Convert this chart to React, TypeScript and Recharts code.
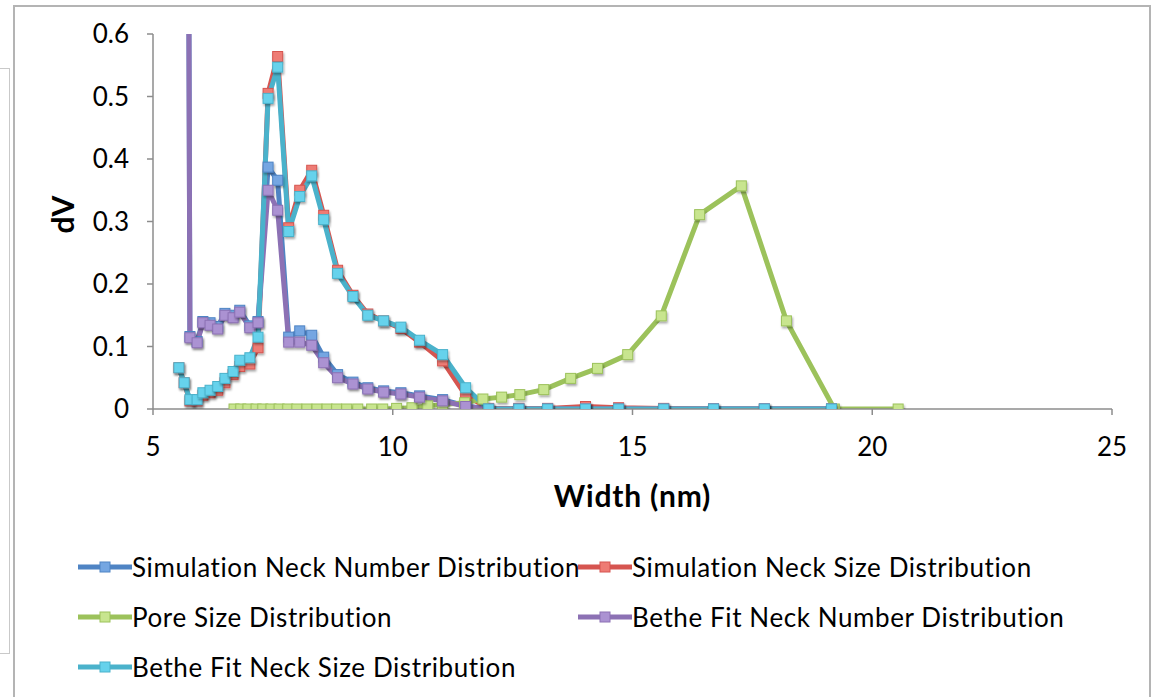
import React from "react";
import { CartesianGrid, Line, LineChart, XAxis, YAxis } from "recharts";

// Neck widths (nm) shared by the four neck distributions
const NECK_WIDTHS = [
  5.54, 5.65, 5.77, 5.92, 6.04, 6.19, 6.35, 6.5, 6.67, 6.81, 7.02, 7.19, 7.4, 7.6, 7.83, 8.06, 8.31, 8.56,
  8.85, 9.17, 9.48, 9.81, 10.17, 10.56, 11.04, 11.52, 12.0, 12.63, 13.23, 14.02, 14.71, 15.65, 16.69, 17.75, 19.15
];

const SIM_NECK_NUMBER = [
  4.0, 3.0, 0.116, 0.108, 0.14, 0.138, 0.132, 0.153, 0.15, 0.158, 0.133, 0.14, 0.387, 0.366, 0.115, 0.125, 0.118, 0.083,
  0.055, 0.043, 0.034, 0.029, 0.026, 0.021, 0.015, 0.005, 0, 0, 0, 0.001, 0.001, 0, 0, 0, 0
];

const SIM_NECK_SIZE = [
  0.066, 0.042, 0.013, 0.013, 0.022, 0.026, 0.03, 0.042, 0.055, 0.068, 0.072, 0.098, 0.505, 0.564, 0.29, 0.35, 0.382,
  0.31, 0.222, 0.182, 0.152, 0.141, 0.129, 0.107, 0.077, 0.022, 0.001, 0.001, 0.001, 0.004, 0.002, 0.001, 0, 0, 0
];

const BETHE_NECK_NUMBER = [
  4.0, 3.0, 0.114, 0.106, 0.138, 0.134, 0.128, 0.15, 0.146, 0.155, 0.13, 0.138, 0.35, 0.318, 0.107, 0.107, 0.102,
  0.074, 0.05, 0.04, 0.032, 0.027, 0.024, 0.019, 0.013, 0.004, 0, 0, 0, 0, 0, 0, 0, 0, 0
];

const BETHE_NECK_SIZE = [
  0.066, 0.042, 0.015, 0.015, 0.026, 0.03, 0.036, 0.049, 0.06, 0.078, 0.082, 0.115, 0.497, 0.547, 0.284, 0.34, 0.373,
  0.303, 0.217, 0.18, 0.15, 0.141, 0.131, 0.11, 0.087, 0.034, 0, 0, 0, 0, 0, 0, 0, 0, 0
];

// Pore widths (nm) and pore size distribution
const PORE_WIDTHS = [
  6.69, 6.83, 6.98, 7.15, 7.29, 7.46, 7.63, 7.81, 8.0, 8.21, 8.42, 8.63, 8.83, 9.04, 9.27, 9.56, 9.79, 10.08, 10.4,
  10.73, 11.04, 11.5, 11.88, 12.27, 12.65, 13.15, 13.71, 14.27, 14.9, 15.6, 16.4, 17.27, 18.21, 19.21, 20.54
];

const PORE_SIZE = [
  0, 0, 0, 0, 0, 0, 0, 0, 0, 0, 0, 0, 0, 0, 0, 0, 0, 0.001, 0.002, 0.005, 0.007, 0.01, 0.016, 0.019, 0.023, 0.031,
  0.049, 0.065, 0.087, 0.149, 0.311, 0.357, 0.141, 0, 0
];

const X_TICKS = [5, 10, 15, 20, 25];
const Y_TICKS = [0, 0.1, 0.2, 0.3, 0.4, 0.5, 0.6];

type Series = {
  key: string;
  name: string;
  line: string;
  marker: string;
  widths: number[];
  values: number[];
};

// drawn in this order, so the Bethe fit curves sit on top
const SERIES: Series[] = [
  { key: "simNumber", name: "Simulation Neck Number Distribution", line: "#4F84C4", marker: "#74A6E2", widths: NECK_WIDTHS, values: SIM_NECK_NUMBER },
  { key: "simSize", name: "Simulation Neck Size Distribution", line: "#D65550", marker: "#EE7B74", widths: NECK_WIDTHS, values: SIM_NECK_SIZE },
  { key: "pore", name: "Pore Size Distribution", line: "#9CC25B", marker: "#C8E58F", widths: PORE_WIDTHS, values: PORE_SIZE },
  { key: "betheNumber", name: "Bethe Fit Neck Number Distribution", line: "#8C71B4", marker: "#AB92D2", widths: NECK_WIDTHS, values: BETHE_NECK_NUMBER },
  { key: "betheSize", name: "Bethe Fit Neck Size Distribution", line: "#4AB2CB", marker: "#66D2EC", widths: NECK_WIDTHS, values: BETHE_NECK_SIZE }
];

const FONT = "Lato, 'Open Sans', sans-serif";

function squareDot(s: Series) {
  return (props: any) => {
    const { cx, cy, index } = props;
    if (cx == null || cy == null) return <g key={`${s.key}-${index}`} />;
    return (
      <rect
        key={`${s.key}-${index}`}
        x={cx - 5}
        y={cy - 5}
        width={10}
        height={10}
        fill={s.marker}
        stroke={s.line}
        strokeWidth={1}
        filter="url(#markerShadow)"
      />
    );
  };
}

function LegendIcon({ s }: { s: Series }) {
  return (
    <svg width={54} height={14} style={{ display: "block" }}>
      <line x1={0} y1={7} x2={54} y2={7} stroke={s.line} strokeWidth={5} />
      <rect x={22} y={2} width={10} height={10} fill={s.marker} stroke={s.line} strokeWidth={1} />
    </svg>
  );
}

function LegendItem({ s, left, top }: { s: Series; left: number; top: number }) {
  return (
    <div style={{ position: "absolute", left, top, display: "flex", alignItems: "center", height: 30 }}>
      <LegendIcon s={s} />
      <span style={{ fontFamily: FONT, fontSize: 26, letterSpacing: 0.6, color: "#000", whiteSpace: "nowrap", marginLeft: 0 }}>{s.name}</span>
    </div>
  );
}

export default function App() {
  const legendSpots = [
    { left: 78, top: 552 },
    { left: 578, top: 552 },
    { left: 78, top: 602 },
    { left: 578, top: 602 },
    { left: 78, top: 652 }
  ];

  return (
    <div style={{ position: "absolute", left: 0, top: 0, width: 1157, height: 697, overflow: "hidden", background: "#fff" }}>
      <svg width={0} height={0} style={{ position: "absolute" }}>
        <defs>
          <filter id="markerShadow" x="-50%" y="-50%" width="200%" height="200%">
            <feDropShadow dx={1} dy={2} stdDeviation={1} floodColor="#000" floodOpacity={0.35} />
          </filter>
        </defs>
      </svg>

      {/* neighbouring panel edge on the far left */}
      <div style={{ position: "absolute", left: -2, top: 68, width: 10, height: 584, border: "1px solid #c9c9c9" }} />
      {/* chart frame */}
      <div
        style={{
          position: "absolute",
          left: 13,
          top: 5,
          width: 1134,
          height: 740,
          borderLeft: "2px solid #b4b4b4",
          borderTop: "2px solid #b4b4b4",
          borderRight: "2px solid #b4b4b4"
        }}
      />

      <div style={{ position: "absolute", left: 0, top: 0 }}>
        <LineChart width={1157} height={697} margin={{ top: 34, right: 45, bottom: 228, left: 73 }}>
          <CartesianGrid horizontal={false} vertical={false} />
          <XAxis
            type="number"
            dataKey="w"
            domain={[5, 25]}
            ticks={X_TICKS}
            height={60}
            axisLine={{ stroke: "#8c8c8c", strokeWidth: 1.5 }}
            tickLine={{ stroke: "#8c8c8c", strokeWidth: 1.5 }}
            tickSize={6}
            tickMargin={23}
            tick={{ fill: "#000", fontSize: 26, fontFamily: FONT }}
            label={{ value: "Width (nm)", position: "insideBottom", offset: -38, fill: "#000", fontSize: 30, fontWeight: 700, letterSpacing: 0.8, fontFamily: FONT }}
          />
          <YAxis
            type="number"
            domain={[0, 0.6]}
            ticks={Y_TICKS}
            allowDataOverflow
            width={80}
            axisLine={{ stroke: "#8c8c8c", strokeWidth: 1.5 }}
            tickLine={{ stroke: "#8c8c8c", strokeWidth: 1.5 }}
            tickSize={6}
            tickMargin={18}
            tick={{ fill: "#000", fontSize: 26, fontFamily: FONT }}
            label={{ value: "dV", angle: -90, position: "insideLeft", offset: -10, dy: 12, fill: "#000", fontSize: 30, fontWeight: 700, fontFamily: FONT }}
          />
          {SERIES.map((s) => (
            <Line
              key={s.key}
              name={s.name}
              data={s.widths.map((w, i) => ({ w, v: s.values[i] }))}
              dataKey="v"
              type="linear"
              stroke={s.line}
              strokeWidth={5}
              strokeLinejoin="round"
              dot={squareDot(s)}
              activeDot={false}
              isAnimationActive={false}
            />
          ))}
        </LineChart>
      </div>

      {SERIES.map((s, i) => (
        <LegendItem key={s.key} s={s} left={legendSpots[i].left} top={legendSpots[i].top} />
      ))}
    </div>
  );
}
